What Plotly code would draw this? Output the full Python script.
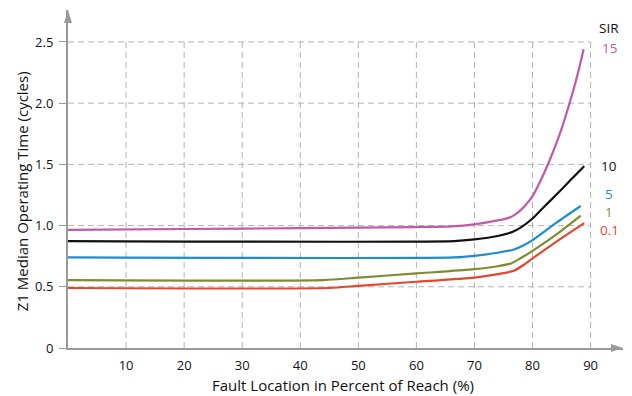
import plotly.graph_objects as go

# Fault location (% of reach) and Z1 median operating time (cycles) per SIR
sir_labels = ["15", "10", "5", "1", "0.1"]

x_sir15 = [0, 20, 40, 60, 66, 70, 74, 76, 77, 78, 79, 80, 81, 82, 83, 84, 85, 86, 87, 88, 88.8]
y_sir15 = [0.965, 0.972, 0.979, 0.988, 0.993, 1.010, 1.042, 1.065, 1.09, 1.128, 1.178, 1.24,
           1.33, 1.43, 1.54, 1.66, 1.79, 1.94, 2.10, 2.28, 2.44]

x_sir10 = [0, 66.5, 70, 74, 76.6, 78, 80, 82, 84.3, 86.5, 88.9]
y_sir10 = [0.873, 0.873, 0.887, 0.915, 0.949, 0.985, 1.058, 1.154, 1.262, 1.37, 1.485]

x_sir5 = [0, 66.5, 70, 74, 76.8, 78.5, 80, 84.3, 88.3]
y_sir5 = [0.740, 0.740, 0.753, 0.778, 0.805, 0.84, 0.881, 1.030, 1.160]

x_sir1 = [0, 44, 50, 60, 70, 74, 76.3, 78, 80, 84.3, 88.3]
y_sir1 = [0.555, 0.555, 0.575, 0.609, 0.644, 0.668, 0.691, 0.735, 0.794, 0.935, 1.082]

x_sir01 = [0, 45, 50, 60, 70, 74, 76.8, 78.5, 80, 84.3, 88.9]
y_sir01 = [0.490, 0.490, 0.508, 0.541, 0.575, 0.603, 0.631, 0.68, 0.732, 0.875, 1.020]

x_ticks = [10, 20, 30, 40, 50, 60, 70, 80, 90]
y_ticks = [0, 0.5, 1.0, 1.5, 2.0, 2.5]
y_tick_text = ["0", "0.5", "1.0", "1.5", "2.0", "2.5"]

series = [
    (x_sir15, y_sir15, "#c159a9"),
    (x_sir10, y_sir10, "#111111"),
    (x_sir5, y_sir5, "#1f8dcd"),
    (x_sir1, y_sir1, "#7f8c2d"),
    (x_sir01, y_sir01, "#e2482c"),
]
# vertical placement of the end labels (spread apart where the curves crowd)
label_y = [2.45, 1.487, 1.262, 1.112, 0.962]

FONT = "Open Sans"
X_MAX = 95.58
Y_MAX = 2.761
GRID = "#b3b3b3"
AXIS = "#9a9a9a"

fig = go.Figure()
for (xs, ys, col), name in zip(series, sir_labels):
    fig.add_trace(go.Scatter(
        x=xs, y=ys, mode="lines", name=name,
        line=dict(color=col, width=2.2, shape="spline", smoothing=0.6),
        showlegend=False, hoverinfo="skip",
    ))

shapes = []
# dashed grid, bounded to the labelled region
for yv in y_ticks[1:]:
    shapes.append(dict(type="line", xref="x", yref="y", x0=0, x1=x_ticks[-1], y0=yv, y1=yv,
                       line=dict(color=GRID, width=1, dash="6px,4px"), layer="below"))
for xv in x_ticks:
    shapes.append(dict(type="line", xref="x", yref="y", x0=xv, x1=xv, y0=0, y1=y_ticks[-1],
                       line=dict(color=GRID, width=1, dash="6px,4px"), layer="below"))

# arrowheads on the axis ends
pw, ph = 555.0, 338.0
shapes.append(dict(type="path", xref="paper", yref="paper",
                   path=f"M 1 0 L {1 - 12 / pw} {4 / ph} L {1 - 12 / pw} {-4 / ph} Z",
                   fillcolor=AXIS, line=dict(width=0)))
shapes.append(dict(type="path", xref="paper", yref="paper",
                   path=f"M 0 1 L {-4 / pw} {1 - 13 / ph} L {4 / pw} {1 - 13 / ph} Z",
                   fillcolor=AXIS, line=dict(width=0)))

LABEL_SIZE = 13.5
annotations = [
    dict(text="SIR", xref="x", yref="y", x=93.2, y=2.615, showarrow=False,
         font=dict(family=FONT, size=LABEL_SIZE, color="#111111"),
         xanchor="center", yanchor="middle"),
]
for (xs, ys, col), name, ly in zip(series, sir_labels, label_y):
    annotations.append(dict(text=name, xref="x", yref="y", x=93.2, y=ly, showarrow=False,
                            font=dict(family=FONT, size=LABEL_SIZE, color=col),
                            xanchor="center", yanchor="middle"))
annotations.append(dict(text="Z1 Median Operating Time (cycles)", xref="paper", yref="paper",
                        x=(21.7 - 68) / pw, y=(348 - 191.5) / ph, textangle=-90, showarrow=False,
                        font=dict(family=FONT, size=15, color="#111111"),
                        xanchor="center", yanchor="middle"))
annotations.append(dict(text="Fault Location in Percent of Reach (%)", xref="paper", yref="paper",
                        x=(343 - 68) / pw, y=(348 - 385) / ph, showarrow=False,
                        font=dict(family=FONT, size=15, color="#111111"),
                        xanchor="center", yanchor="middle"))

fig.update_layout(
    width=632, height=396,
    margin=dict(l=68, r=9, t=10, b=48),
    paper_bgcolor="white", plot_bgcolor="white",
    font=dict(family=FONT, size=13, color="#111111"),
    shapes=shapes, annotations=annotations,
    xaxis=dict(range=[0, X_MAX], showgrid=False, zeroline=False,
               showline=True, linecolor=AXIS, linewidth=2,
               tickmode="array", tickvals=x_ticks, ticktext=[str(v) for v in x_ticks],
               ticks="outside", ticklen=4, tickcolor="rgba(0,0,0,0)",
               tickfont=dict(family=FONT, size=13, color="#111111")),
    yaxis=dict(range=[0, Y_MAX], showgrid=False, zeroline=False,
               showline=True, linecolor=AXIS, linewidth=2,
               tickmode="array", tickvals=y_ticks, ticktext=y_tick_text,
               ticks="outside", ticklen=7, tickcolor=AXIS, tickwidth=1,
               ticklabelstandoff=3,
               tickfont=dict(family=FONT, size=13, color="#111111")),
)

fig.write_html("out.html")
